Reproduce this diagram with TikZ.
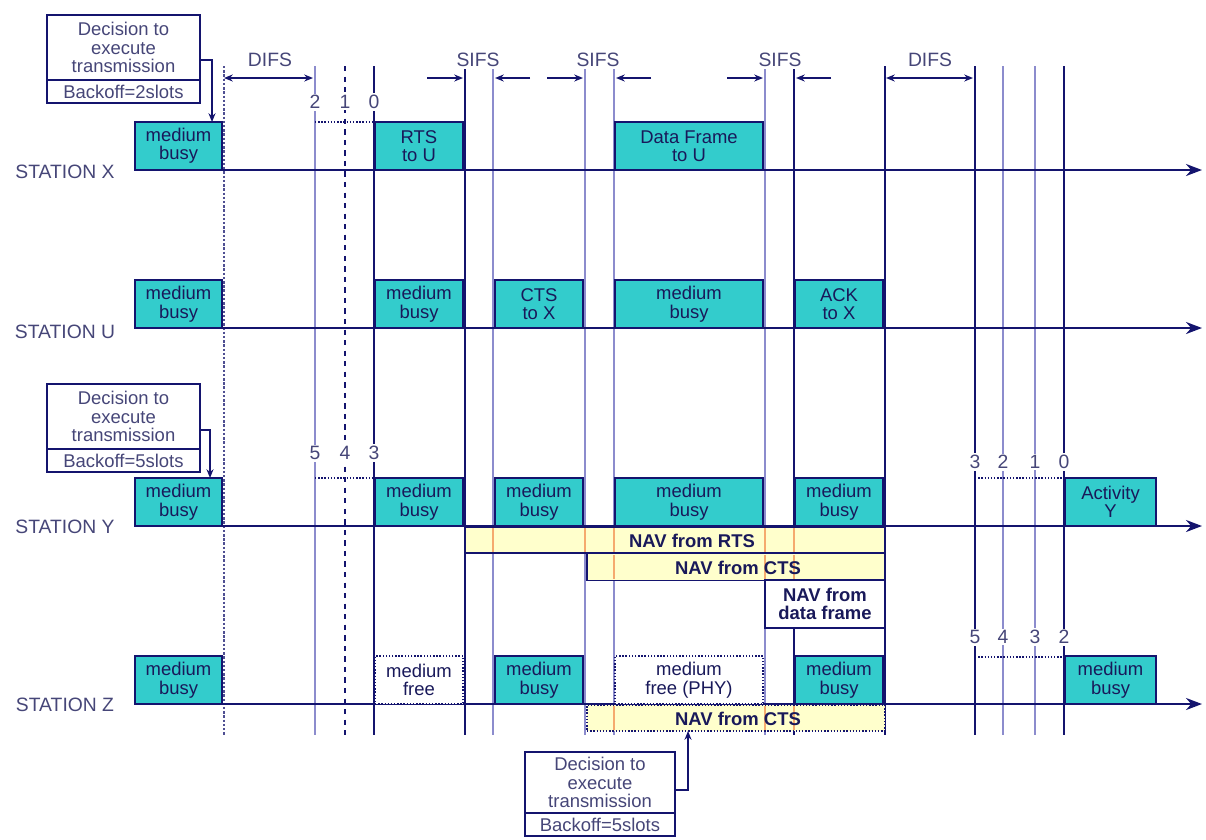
\documentclass[tikz,border=0pt]{standalone}
\usepackage{fontspec}
\setmainfont{Liberation Sans}
\usepackage{xcolor}
\usetikzlibrary{positioning,arrows.meta}
\definecolor{busyfill}{RGB}{51,204,204}
\definecolor{navline}{RGB}{20,20,110}
\definecolor{navtext}{RGB}{25,25,90}
\definecolor{greytext}{RGB}{70,70,120}
\definecolor{navfill}{RGB}{255,255,204}
\definecolor{lightline}{RGB}{140,140,205}
\definecolor{navtick}{RGB}{245,170,110}

\begin{document}
\begin{tikzpicture}[x=0.02cm,y=-0.02cm,>={Stealth[length=5pt,width=4pt]}]
  \tikzset{
    txt/.style={font=\fontsize{10.5}{10.5}\selectfont,text=navtext,align=center,inner sep=0pt,outer sep=0pt},
    busy/.style={txt,rectangle,draw=navline,thick,fill=busyfill,minimum height=0.96cm},
    free/.style={txt,rectangle,draw=navline,densely dotted,thick,fill=white,minimum height=0.96cm},
    nav/.style={rectangle,draw=navline,thick,fill=navfill,inner sep=0pt,outer sep=0pt},
    navlbl/.style={txt,font=\fontsize{10.5}{10.5}\selectfont\bfseries},
    dec/.style={txt,rectangle,draw=navline,thick,fill=white,text=greytext},
    station/.style={txt,font=\fontsize{11}{11}\selectfont,text=greytext},
    slot/.style={txt,font=\fontsize{11}{11}\selectfont,text=greytext,fill=white,inner sep=1pt},
    axis/.style={-{Stealth[length=0.32cm,width=0.24cm]},line width=1.4pt,navline},
    vdark/.style={navline,line width=1pt}, vlight/.style={lightline,line width=1pt},
    gap/.style={<->,navline,thick}, gapin/.style={->,navline,thick},
    decarr/.style={->,navline,thick}}
  \useasboundingbox (0,0) rectangle (1206,839);
  \clip (0,0) rectangle (1206,839);
  \foreach \x in {315,493,585,614,765,1003,1035} \draw[vlight] (\x,66)--(\x,735);
  \foreach \x in {374,465,794,885,975,1064} \draw[vdark] (\x,66)--(\x,735);
  \draw[navline!75,densely dotted,line width=1.4pt] (224,66)--(224,735);
  \draw[vdark,dashed] (345,66)--(345,735);
  \foreach \a/\b/\y in {315/374/122,315/374/478,975/1064/478,975/1064/657}
    \draw[navline,densely dotted,thick] (\a,\y)--(\b,\y);
  \foreach \y in {170,328,526,704} \draw[axis] (135,\y)--(1202,\y);
  \foreach \y/\s in {172/X,332/U,527/Y,705/Z} \node[station] (st\s) at (65,\y) {STATION \s};
  \foreach \y/\a/\b/\nm/\t in {146/135/222/xb1/{medium\\busy},146/375/463/xrts/{RTS\\to U},
     146/615/763/xdata/{Data Frame\\to U},
     304/135/222/ub1/{medium\\busy},304/375/463/ub2/{medium\\busy},304/495/583/ucts/{CTS\\to X},
     304/615/763/ub3/{medium\\busy},304/795/883/uack/{ACK\\to X},
     502/135/222/yb1/{medium\\busy},502/375/463/yb2/{medium\\busy},502/495/583/yb3/{medium\\busy},
     502/615/763/yb4/{medium\\busy},502/795/883/yb5/{medium\\busy},502/1065/1156/yact/{Activity\\Y},
     680/135/222/zb1/{medium\\busy},680/495/583/zb2/{medium\\busy},680/795/883/zb3/{medium\\busy},
     680/1065/1156/zb4/{medium\\busy}}
    \node[busy,minimum width={(\b-\a)*0.02cm}] (\nm) at ({(\a+\b)/2},\y) {\t};
  \node[free,minimum width=1.76cm] (zf1) at (419,680) {medium\\free};
  \node[free,minimum width=2.96cm] (zf2) at (689,680) {medium\\free (PHY)};
  \node[nav,minimum width=8.4cm,minimum height=0.52cm] (navrts) at (675,540) {};
  \node[nav,minimum width=5.96cm,minimum height=0.54cm] (navcts) at (736,567) {};
  \node[nav,fill=white,minimum width=2.4cm,minimum height=0.96cm] (navdf) at (825,604) {};
  \node[nav,densely dotted,minimum width=5.96cm,minimum height=0.52cm] (navz) at (736,718) {};
  \foreach \x in {493,585,614,765,794} \draw[navtick,line width=1pt] (\x,528)--(\x,552);
  \foreach \x in {614,765,794} \draw[navtick,line width=1pt] (\x,555)--(\x,579);
  \foreach \x in {614,765,794} \draw[navtick,line width=1pt] (\x,706)--(\x,730);
  \node[navlbl] (navrtst) at (692,541) {NAV from RTS};
  \node[navlbl] (navctst) at (738,568) {NAV from CTS};
  \node[navlbl] (navdft) at (825,604) {NAV from\\data frame};
  \node[navlbl] (navzt) at (738,719) {NAV from CTS};
  \foreach \x/\n in {315/2,345/1,374/0} \node[slot] (xs\n) at (\x,102) {\n};
  \foreach \x/\n in {315/5,345/4,374/3} \node[slot] (ys\n) at (\x,453) {\n};
  \foreach \x/\n in {975/3,1003/2,1035/1,1064/0} \node[slot] (yr\n) at (\x,462) {\n};
  \foreach \x/\n in {975/5,1003/4,1035/3,1064/2} \node[slot] (zr\n) at (\x,637) {\n};
  \draw[gap] (224,78)--(313,78);
  \node[station] (difs1) at (270,60) {DIFS};
  \draw[gap] (886,78)--(973,78);
  \node[station] (difs2) at (930,60) {DIFS};
  \foreach \l/\r/\m in {465/493/478,585/614/598,765/794/780}{
    \draw[gapin] (\l-38,78)--(\l-2,78);
    \draw[gapin] (\r+37,78)--(\r+2,78);
    \node[station,fill=white,inner sep=1pt] (sifs\m) at (\m,60) {SIFS};}
  \node[dec,minimum width=3.06cm,minimum height=1.3cm] (dec1) at (123.5,47.5) {Decision to\\execute\\transmission};
  \node[dec,minimum width=3.06cm,minimum height=0.46cm,below=0pt of dec1] (bo1) {Backoff=2slots};
  \draw[decarr] ([yshift=-0.25cm]dec1.east) -| ([xshift=-0.2cm]xb1.north east);
  \node[dec,minimum width=3.06cm,minimum height=1.3cm] (dec2) at (123.5,416.5) {Decision to\\execute\\transmission};
  \node[dec,minimum width=3.06cm,minimum height=0.46cm,below=0pt of dec2] (bo2) {Backoff=5slots};
  \draw[decarr] ([yshift=-0.27cm]dec2.east) -| ([xshift=-0.24cm]yb1.north east);
  \node[dec,minimum width=3cm,minimum height=1.22cm] (dec3) at (600,782.5) {Decision to\\execute\\transmission};
  \node[dec,minimum width=3cm,minimum height=0.46cm,below=0pt of dec3] (bo3) {Backoff=5slots};
  \draw[decarr] ([yshift=-0.15cm]dec3.east) -| ([xshift=-0.96cm]navz.south);
\end{tikzpicture}
\end{document}
